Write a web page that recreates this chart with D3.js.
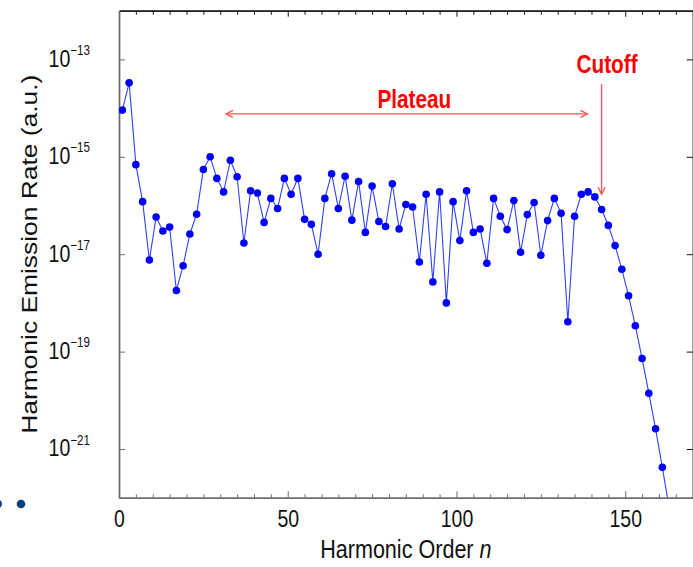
<!DOCTYPE html>
<html>
<head>
<meta charset="utf-8">
<script src="https://cdn.jsdelivr.net/npm/d3@7"></script>
<style>
  body { margin: 0; background: #fff; }
  svg { display: block; }
  text { font-family: "Liberation Sans", Arial, Helvetica, sans-serif; }
</style>
</head>
<body>
<svg id="chart" width="693" height="567"></svg>
<script>
// Odd harmonic orders and their emission rates (a.u.)
const harmonicOrder = [
  1, 3, 5, 7, 9, 11, 13, 15, 17, 19, 21, 23, 25, 27, 29, 31, 33, 35, 37, 39,
  41, 43, 45, 47, 49, 51, 53, 55, 57, 59, 61, 63, 65, 67, 69, 71, 73, 75, 77, 79,
  81, 83, 85, 87, 89, 91, 93, 95, 97, 99, 101, 103, 105, 107, 109, 111, 113, 115, 117, 119,
  121, 123, 125, 127, 129, 131, 133, 135, 137, 139, 141, 143, 145, 147, 149, 151, 153, 155, 157, 159,
  161, 163
];
const emissionRate = [
  9.1e-15, 3.3e-14, 6.9e-16, 1.2e-16, 7.6e-18, 5.8e-17, 3.0e-17, 3.6e-17, 1.8e-18, 5.8e-18,
  2.6e-17, 6.6e-17, 5.5e-16, 1.0e-15, 3.6e-16, 1.9e-16, 8.5e-16, 3.9e-16, 1.7e-17, 2.0e-16,
  1.8e-16, 4.5e-17, 1.4e-16, 8.7e-17, 3.6e-16, 1.7e-16, 3.6e-16, 5.2e-17, 4.1e-17, 1.0e-17,
  1.4e-16, 4.5e-16, 8.7e-17, 4.0e-16, 5.0e-17, 3.1e-16, 2.8e-17, 2.5e-16, 4.7e-17, 3.7e-17,
  2.8e-16, 3.3e-17, 1.05e-16, 9.3e-17, 6.9e-18, 1.7e-16, 2.7e-18, 1.9e-16, 1.0e-18, 1.2e-16,
  1.9e-17, 2.0e-16, 2.8e-17, 3.3e-17, 6.5e-18, 1.4e-16, 6.0e-17, 3.2e-17, 1.26e-16, 1.1e-17,
  6.5e-17, 1.15e-16, 9.5e-18, 4.9e-17, 1.4e-16, 6.9e-17, 4.1e-19, 6.0e-17, 1.7e-16, 1.9e-16,
  1.5e-16, 8.3e-17, 3.9e-17, 1.5e-17, 4.9e-18, 1.4e-18, 3.4e-19, 7.2e-20, 1.4e-20, 2.6e-21,
  4.2e-22, 6.3e-23
];

// Axis ticks
const xDomain = [0, 170];
const xMajorTicks = [0, 50, 100, 150];
const xMinorTicks = [5, 10, 15, 20, 25, 30, 35, 40, 45, 55, 60, 65, 70, 75, 80, 85, 90, 95,
  105, 110, 115, 120, 125, 130, 135, 140, 145, 155, 160, 165];
const yDomain = [1e-22, 1e-12];
const yTickExponents = [-13, -15, -17, -19, -21];

// Annotation anchors (data coordinates)
const plateauRange = [31.7, 138.8];
const plateauLevel = 7.6e-15;
const cutoffOrder = 143;
const cutoffArrow = [3.1e-14, 1.7e-16];

(function draw() {
  const svg = d3.select("#chart");
  const plotLeft = 119, plotRight = 692.7, plotTop = 10.7, plotBottom = 497.7;
  const SX = 0.83; // horizontal squeeze applied to glyphs

  const x = d3.scaleLinear().domain(xDomain).range([plotLeft, plotRight]);
  const y = d3.scaleLog().domain(yDomain).range([plotBottom, plotTop]);

  svg.append("rect").attr("width", 693).attr("height", 567).attr("fill", "#fff");

  // Bullet dots from the surrounding slide
  svg.append("circle").attr("cx", -2).attr("cy", 504).attr("r", 4).attr("fill", "#0c3f7c");
  svg.append("circle").attr("cx", 21).attr("cy", 504).attr("r", 4.3).attr("fill", "#0c3f7c");

  // ---- axes ----
  const axisGray = "#6e6e6e";
  function styleAxis(g, color, width) {
    g.selectAll(".domain").attr("stroke", color).attr("stroke-width", width);
    g.selectAll(".tick line").attr("stroke", color).attr("stroke-width", 1);
  }

  // bottom: minor + major ticks, labels on majors
  const xb1 = svg.append("g").attr("transform", `translate(0,${plotBottom})`)
    .call(d3.axisBottom(x).tickValues(xMinorTicks).tickSize(-3.4).tickSizeOuter(0).tickFormat(""));
  styleAxis(xb1, axisGray, 1.6);
  const xb2 = svg.append("g").attr("transform", `translate(0,${plotBottom})`)
    .call(d3.axisBottom(x).tickValues(xMajorTicks).tickSize(-6.5).tickSizeOuter(0).tickFormat(d3.format("d")));
  styleAxis(xb2, axisGray, 1.6);
  xb2.selectAll(".tick text")
    .attr("y", 29.3).attr("dy", null)
    .attr("font-size", 23.5).attr("fill", "#111")
    .attr("font-family", "Liberation Sans, Arial, sans-serif")
    .attr("transform", `scale(${SX},1)`);

  // top: ticks pointing down
  const xt1 = svg.append("g").attr("transform", `translate(0,${plotTop})`)
    .call(d3.axisTop(x).tickValues(xMinorTicks).tickSize(-4).tickSizeOuter(0).tickFormat(""));
  styleAxis(xt1, "#111", 1.2);
  const xt2 = svg.append("g").attr("transform", `translate(0,${plotTop})`)
    .call(d3.axisTop(x).tickValues(xMajorTicks.slice(1)).tickSize(-6).tickSizeOuter(0).tickFormat(""));
  styleAxis(xt2, "#111", 1.2);

  // left: decade ticks, labels drawn as 10 with superscript exponent
  const yTickValues = yTickExponents.map(e => Math.pow(10, e));
  const yl = svg.append("g").attr("transform", `translate(${plotLeft},0)`)
    .call(d3.axisLeft(y).tickValues(yTickValues).tickSize(-6).tickSizeOuter(0).tickFormat(""));
  styleAxis(yl, axisGray, 1.8);
  yl.selectAll(".tick").each(function(d) {
    const e = Math.round(Math.log10(d));
    const t = d3.select(this).append("text")
      .attr("transform", `translate(-29,6.8) scale(${SX},1)`)
      .attr("text-anchor", "end").attr("fill", "#111");
    t.append("tspan").attr("font-size", 23.5).text("10");
    t.append("tspan").attr("font-size", 14).attr("dy", -11.8).text("\u2212" + Math.abs(e));
  });

  // right: decade ticks pointing inward
  const yr = svg.append("g").attr("transform", `translate(${plotRight},0)`)
    .call(d3.axisRight(y).tickValues(yTickValues).tickSize(-6).tickSizeOuter(0).tickFormat(""));
  styleAxis(yr, "#111", 1.2);

  // axis titles
  const xTitle = svg.append("text")
    .attr("transform", `translate(${(plotLeft + plotRight) / 2},558) scale(${SX},1)`)
    .attr("text-anchor", "middle").attr("font-size", 26).attr("fill", "#111");
  xTitle.append("tspan").text("Harmonic Order ");
  xTitle.append("tspan").attr("font-style", "italic").text("n");

  svg.append("text")
    .attr("transform", `translate(37,${(plotTop + plotBottom) / 2}) rotate(-90) scale(1.2,1)`)
    .attr("text-anchor", "middle").attr("font-size", 22).attr("fill", "#111")
    .text("Harmonic Emission Rate (a.u.)");

  // ---- data ----
  svg.append("clipPath").attr("id", "plot-clip")
    .append("rect").attr("x", plotLeft).attr("y", plotTop)
    .attr("width", plotRight - plotLeft).attr("height", plotBottom - plotTop);

  const points = harmonicOrder.map((n, i) => ({ n, v: emissionRate[i] }));
  const plot = svg.append("g").attr("clip-path", "url(#plot-clip)");

  plot.append("path").datum(points)
    .attr("fill", "none").attr("stroke", "#3040ff").attr("stroke-width", 1.1)
    .attr("d", d3.line().x(d => x(d.n)).y(d => y(d.v)));

  plot.selectAll("circle.pt").data(points).join("circle").attr("class", "pt")
    .attr("cx", d => x(d.n)).attr("cy", d => y(d.v)).attr("r", 3.8).attr("fill", "#0000ff");

  // ---- annotations ----
  const red = "#ff5555";
  const ay = y(plateauLevel);
  const ax0 = x(plateauRange[0]), ax1 = x(plateauRange[1]);
  const ann = svg.append("g").attr("fill", "none").attr("stroke", red).attr("stroke-width", 1.4);
  ann.append("line").attr("x1", ax0).attr("x2", ax1).attr("y1", ay).attr("y2", ay);
  ann.append("path").attr("d", `M${ax0 + 7},${ay - 3.5}L${ax0},${ay}L${ax0 + 7},${ay + 3.5}`);
  ann.append("path").attr("d", `M${ax1 - 7},${ay - 3.5}L${ax1},${ay}L${ax1 - 7},${ay + 3.5}`);

  const cx = x(cutoffOrder), cy0 = y(cutoffArrow[0]), cy1 = y(cutoffArrow[1]);
  ann.append("line").attr("x1", cx).attr("x2", cx).attr("y1", cy0).attr("y2", cy1);
  ann.append("path").attr("d", `M${cx - 3.5},${cy1 - 7}L${cx},${cy1}L${cx + 3.5},${cy1 - 7}`);

  svg.append("text")
    .attr("transform", `translate(${x(87.5)},107.5) scale(${SX},1)`)
    .attr("text-anchor", "middle").attr("font-size", 25).attr("font-weight", "bold").attr("fill", "#ff0000")
    .text("Plateau");
  svg.append("text")
    .attr("transform", `translate(${cx + 5.5},73) scale(${SX},1)`)
    .attr("text-anchor", "middle").attr("font-size", 25).attr("font-weight", "bold").attr("fill", "#ff0000")
    .text("Cutoff");
})();
</script>
</body>
</html>
